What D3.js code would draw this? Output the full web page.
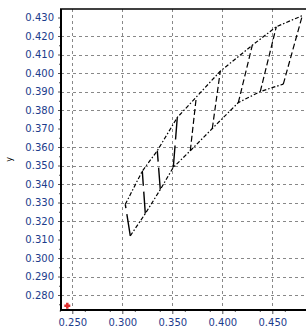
<!DOCTYPE html>
<html>
<head>
<meta charset="utf-8">
<script src="https://cdn.jsdelivr.net/npm/d3@7"></script>
<style>
  body { margin: 0; background: #fff; }
  text { font-family: "DejaVu Sans", sans-serif; font-size: 10px; fill: #1c3c8c; }
</style>
</head>
<body>
<script>
// tick values
var xTicks = [0.25, 0.30, 0.35, 0.40, 0.45];
var yTicks = [0.28, 0.29, 0.30, 0.31, 0.32, 0.33, 0.34, 0.35, 0.36, 0.37, 0.38, 0.39, 0.40, 0.41, 0.42, 0.43];
var yGridSkip = [0.31, 0.37, 0.43];

// upper and lower edges of the band
var upperX = [0.303, 0.320, 0.335, 0.355, 0.374, 0.398, 0.430, 0.454, 0.480];
var upperY = [0.329, 0.347, 0.358, 0.376, 0.387, 0.401, 0.415, 0.425, 0.431];
var lowerX = [0.308, 0.323, 0.338, 0.351, 0.368, 0.390, 0.416, 0.438, 0.461];
var lowerY = [0.312, 0.324, 0.337, 0.349, 0.358, 0.370, 0.384, 0.390, 0.394];

// the red point in the corner
var markX = [0.2450];
var markY = [0.2742];

var W = 306, H = 329;
var margin = {top: 9, right: 0, bottom: 19, left: 61},
    width = W - margin.left - margin.right,
    height = H - margin.top - margin.bottom;

var x = d3.scaleLinear().domain([0.2387, 0.4837]).range([0, width]);
var y = d3.scaleLinear().domain([0.2719, 0.4346]).range([height, 0]);

var svg = d3.select("body").append("svg")
    .attr("width", W)
    .attr("height", H)
  .append("g")
    .attr("transform", "translate(" + margin.left + "," + margin.top + ")");

svg.append("clipPath").attr("id", "clip")
  .append("rect").attr("width", width).attr("height", height);

var plot = svg.append("g").attr("clip-path", "url(#clip)");

// grid
plot.selectAll(".vgrid")
    .data(xTicks)
  .enter().append("line")
    .attr("x1", function(d) { return Math.round(x(d)) + 0.5; })
    .attr("x2", function(d) { return Math.round(x(d)) + 0.5; })
    .attr("y1", 0).attr("y2", height)
    .attr("stroke", "#888").attr("stroke-dasharray", "3,3");

plot.selectAll(".hgrid")
    .data(yTicks.filter(function(d) { return yGridSkip.indexOf(d) < 0; }))
  .enter().append("line")
    .attr("y1", function(d) { return Math.round(y(d)) + 0.5; })
    .attr("y2", function(d) { return Math.round(y(d)) + 0.5; })
    .attr("x1", 0).attr("x2", width)
    .attr("stroke", "#888").attr("stroke-dasharray", "3,3");

// band edges
var upper = upperX.map(function(v, i) { return [v, upperY[i]]; });
var lower = lowerX.map(function(v, i) { return [v, lowerY[i]]; });
var line = d3.line().x(function(d) { return x(d[0]); }).y(function(d) { return y(d[1]); });

plot.append("path").datum(upper)
    .attr("d", line).attr("fill", "none")
    .attr("stroke", "#000").attr("stroke-width", 1.2).attr("stroke-dasharray", "4,2,1.5,2");
plot.append("path").datum(lower)
    .attr("d", line).attr("fill", "none")
    .attr("stroke", "#000").attr("stroke-width", 1.2).attr("stroke-dasharray", "4,2,1.5,2");

// cross lines
plot.selectAll(".cross")
    .data(lower.map(function(d, i) { return [d, upper[i]]; }))
  .enter().append("path")
    .attr("d", line).attr("fill", "none")
    .attr("stroke", "#000")
    .attr("stroke-width", function(d, i) { return i < 4 ? 1.4 : 1.2; })
    .attr("stroke-dasharray", function(d, i) { return i < 4 ? "22,6" : "6,3"; });

// red marker
plot.selectAll(".mark")
    .data(markX)
  .enter().append("path")
    .attr("d", function(d, i) {
      var cx = x(d), cy = y(markY[i]);
      return "M" + (cx - 3) + "," + cy + "H" + (cx + 3) + "M" + cx + "," + (cy - 3) + "V" + (cy + 3);
    })
    .attr("stroke", "#e03030").attr("stroke-width", 2.5);

// axes
var xAxis = svg.append("g")
    .attr("transform", "translate(0," + height + ")")
    .call(d3.axisBottom(x).tickValues(xTicks).tickFormat(d3.format(".3f")).tickSize(4).tickPadding(5));
xAxis.select(".domain").remove();
svg.append("g")
    .attr("transform", "translate(0," + height + ")")
    .call(d3.axisBottom(x).tickValues(d3.range(0.2375, 0.49, 0.025)).tickFormat("").tickSize(2))
    .select(".domain").remove();

var yAxis = svg.append("g")
    .call(d3.axisLeft(y).tickValues(yTicks).tickFormat(d3.format(".3f")).tickSize(3).tickPadding(4));
yAxis.select(".domain").remove();
svg.append("g")
    .call(d3.axisLeft(y).tickValues(d3.range(0.275, 0.435, 0.01)).tickFormat("").tickSize(2))
    .select(".domain").remove();

svg.selectAll(".tick text").style("fill", "#1c3c8c").style("font-size", "10px");
svg.selectAll(".tick line").attr("stroke", "#555");

// frame
svg.append("line").attr("x1", 0).attr("x2", 0).attr("y1", 0).attr("y2", height + 1)
    .attr("stroke", "#000").attr("stroke-width", 2);
svg.append("line").attr("x1", -1).attr("x2", width).attr("y1", height).attr("y2", height)
    .attr("stroke", "#000").attr("stroke-width", 2);
svg.append("line").attr("x1", -1).attr("x2", width).attr("y1", 0).attr("y2", 0)
    .attr("stroke", "#000").attr("stroke-width", 1.5);

// y label
svg.append("text")
    .attr("transform", "translate(" + (12 - margin.left) + "," + (height / 2) + ") rotate(-90)")
    .style("text-anchor", "middle")
    .style("font-size", "8px")
    .style("fill", "#000")
    .text("y");
</script>
</body>
</html>
